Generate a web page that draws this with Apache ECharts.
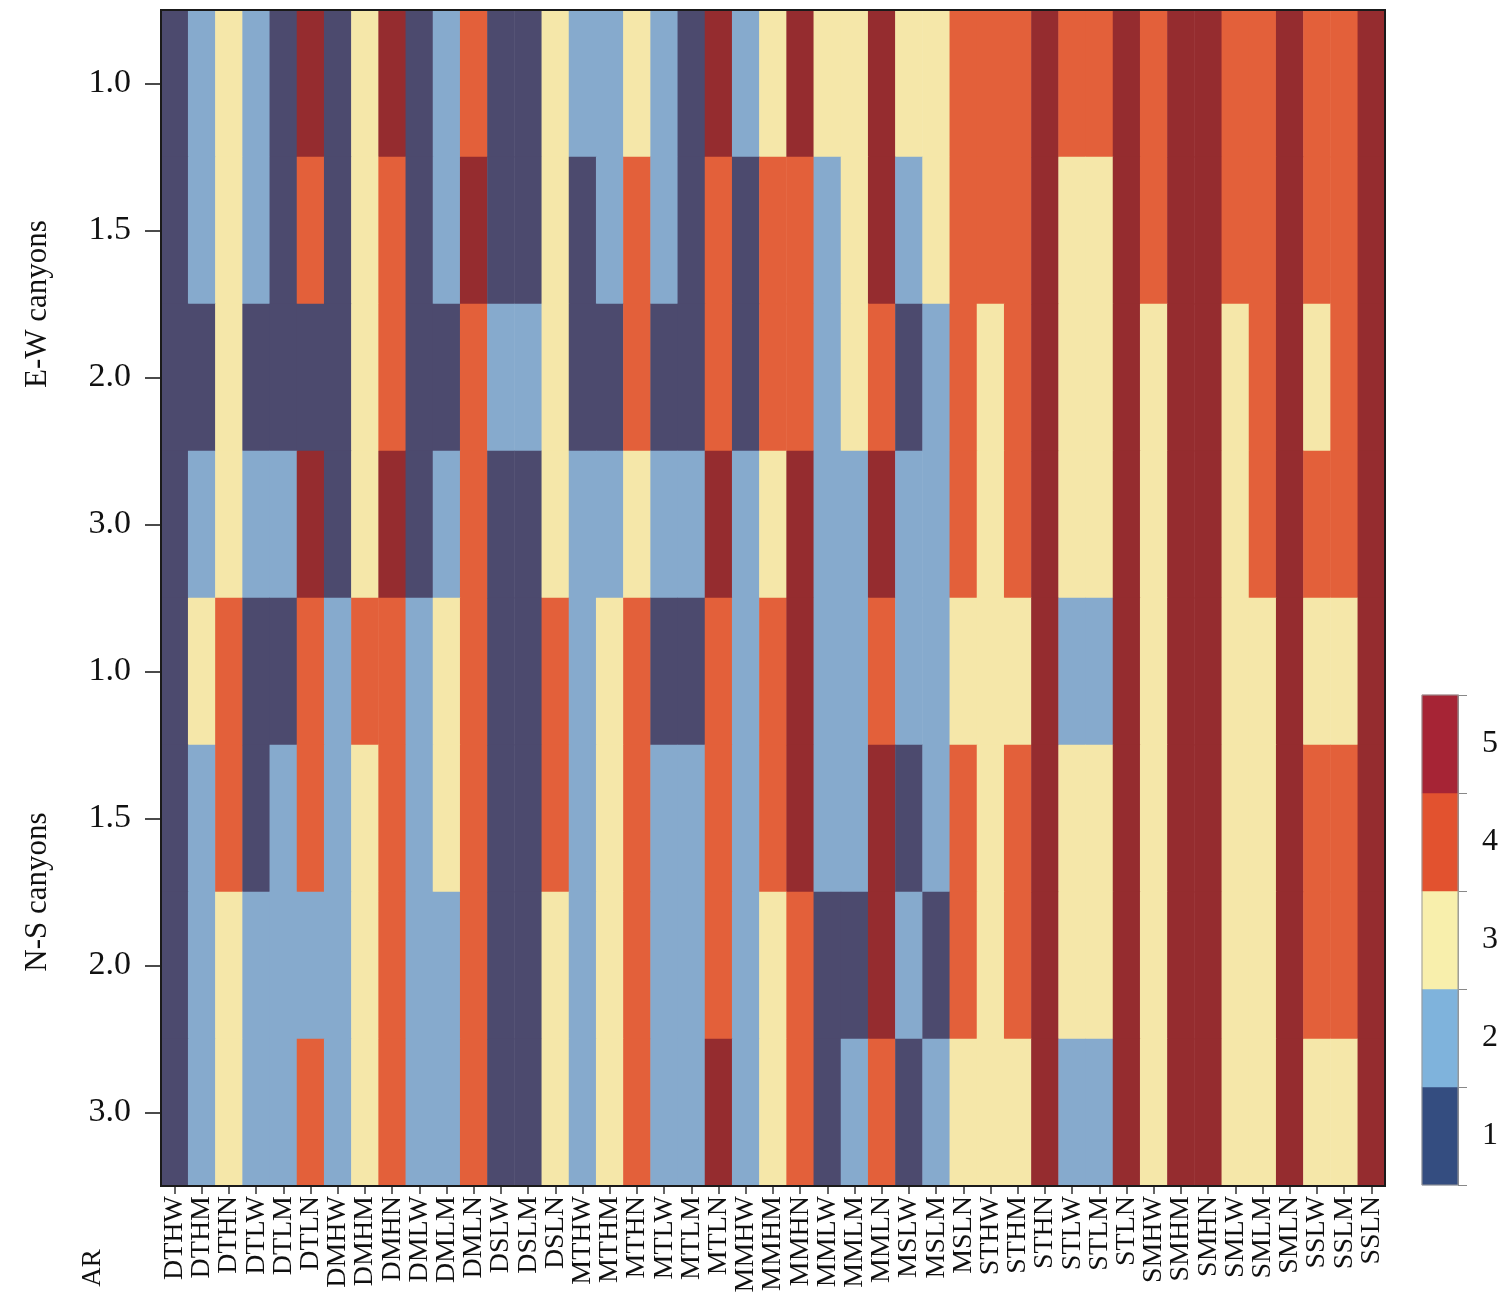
<!DOCTYPE html>
<html>
<head>
<meta charset="utf-8">
<script src="https://cdn.jsdelivr.net/npm/echarts@6/dist/echarts.min.js"></script>
<style>
html,body{margin:0;padding:0;background:#fff;}
#chart{width:1500px;height:1294px;}
</style>
</head>
<body>
<div id="chart"></div>
<script>
// Column categories (canyon configurations)
var categories = ['DTHW','DTHM','DTHN','DTLW','DTLM','DTLN','DMHW','DMHM','DMHN','DMLW','DMLM','DMLN','DSLW','DSLM','DSLN',
  'MTHW','MTHM','MTHN','MTLW','MTLM','MTLN','MMHW','MMHM','MMHN','MMLW','MMLM','MMLN','MSLW','MSLM','MSLN',
  'STHW','STHM','STHN','STLW','STLM','STLN','SMHW','SMHM','SMHN','SMLW','SMLM','SMLN','SSLW','SSLM','SSLN'];
// Row tick labels (aspect ratio), top to bottom
var rowLabels = ['1.0','1.5','2.0','3.0','1.0','1.5','2.0','3.0'];
var groupLabels = ['E-W canyons','N-S canyons'];
var legendLabels = ['1','2','3','4','5'];

// Class values (1-5), one array per row
var ew10 = [1,2,3,2,1,5,1,3,5,1,2,4,1,1,3, 2,2,3,2,1,5,2,3,5,3,3,5,3,3,4, 4,4,5,4,4,5,4,5,5,4,4,5,4,4,5];
var ew15 = [1,2,3,2,1,4,1,3,4,1,2,5,1,1,3, 1,2,4,2,1,4,1,4,4,2,3,5,2,3,4, 4,4,5,3,3,5,4,5,5,4,4,5,4,4,5];
var ew20 = [1,1,3,1,1,1,1,3,4,1,1,4,2,2,3, 1,1,4,1,1,4,1,4,4,2,3,4,1,2,4, 3,4,5,3,3,5,3,5,5,3,4,5,3,4,5];
var ew30 = [1,2,3,2,2,5,1,3,5,1,2,4,1,1,3, 2,2,3,2,2,5,2,3,5,2,2,5,2,2,4, 3,4,5,3,3,5,3,5,5,3,4,5,4,4,5];
var ns10 = [1,3,4,1,1,4,2,4,4,2,3,4,1,1,4, 2,3,4,1,1,4,2,4,5,2,2,4,2,2,3, 3,3,5,2,2,5,3,5,5,3,3,5,3,3,5];
var ns15 = [1,2,4,1,2,4,2,3,4,2,3,4,1,1,4, 2,3,4,2,2,4,2,4,5,2,2,5,1,2,4, 3,4,5,3,3,5,3,5,5,3,3,5,4,4,5];
var ns20 = [1,2,3,2,2,2,2,3,4,2,2,4,1,1,3, 2,3,4,2,2,4,2,3,4,1,1,5,2,1,4, 3,4,5,3,3,5,3,5,5,3,3,5,4,4,5];
var ns30 = [1,2,3,2,2,4,2,3,4,2,2,4,1,1,3, 2,3,4,2,2,5,2,3,4,1,2,4,1,2,3, 3,3,5,2,2,5,3,5,5,3,3,5,3,3,5];
var rows = [ew10, ew15, ew20, ew30, ns10, ns15, ns20, ns30];

var cellColors = ['#4c4a6e','#86aacd','#f5e7a9','#e3603a','#952c2f'];
var legendColors = ['#344d80','#7fb3dc','#f8efac','#e2522f','#a62435'];

var heatData = [];
rows.forEach(function (r, yi) {
  r.forEach(function (v, xi) { heatData.push([xi, yi, v]); });
});
var legendData = legendLabels.map(function (l, i) { return [0, i, i + 1]; });

var serif = '"Liberation Serif","DejaVu Serif",serif';

var chart = echarts.init(document.getElementById('chart'));
chart.setOption({
  backgroundColor: '#ffffff',
  animation: false,
  grid: [
    {left: 161, top: 10, width: 1224, height: 1176, show: true, z: 10, containLabel: false, outerBoundsMode: 'none',
     backgroundColor: 'transparent', borderColor: '#1a1a1a', borderWidth: 2},
    {left: 1422, top: 695, width: 36, height: 490, show: true, z: 10, containLabel: false, outerBoundsMode: 'none',
     backgroundColor: 'transparent', borderColor: '#999', borderWidth: 1}
  ],
  xAxis: [
    {type: 'category', gridIndex: 0, data: categories, position: 'bottom',
     axisLine: {show: true, lineStyle: {color: '#1a1a1a', width: 2}},
     axisTick: {show: true, alignWithLabel: true, length: 8, lineStyle: {color: '#333', width: 1.5}},
     axisLabel: {rotate: 90, interval: 0, margin: 10, fontSize: 28, fontFamily: serif, color: '#111'},
     splitLine: {show: false}},
    {type: 'category', gridIndex: 1, data: ['c'], show: false}
  ],
  yAxis: [
    {type: 'category', gridIndex: 0, data: rowLabels, inverse: true, position: 'left',
     axisLine: {show: true, lineStyle: {color: '#1a1a1a', width: 2}},
     axisTick: {show: true, alignWithLabel: true, length: 16, lineStyle: {color: '#111', width: 1.5}},
     axisLabel: {interval: 0, margin: 30, fontSize: 34, fontFamily: serif, color: '#111'},
     splitLine: {show: false}},
    {type: 'category', gridIndex: 0, data: groupLabels, inverse: true, position: 'left',
     axisLine: {show: false}, axisTick: {show: false},
     axisLabel: {rotate: 90, interval: 0, margin: 108, fontSize: 31, fontFamily: serif, color: '#111'},
     splitLine: {show: false}},
    {type: 'category', gridIndex: 1, data: legendLabels, position: 'right',
     axisLine: {show: true, lineStyle: {color: '#888', width: 1}},
     axisTick: {show: true, length: 9, lineStyle: {color: '#888', width: 1}},
     axisLabel: {margin: 24, fontSize: 32, fontFamily: serif, color: '#111'},
     splitLine: {show: false}}
  ],
  visualMap: [
    {type: 'piecewise', show: false, seriesIndex: 0, dimension: 2,
     pieces: [{value: 1, color: cellColors[0]}, {value: 2, color: cellColors[1]}, {value: 3, color: cellColors[2]},
              {value: 4, color: cellColors[3]}, {value: 5, color: cellColors[4]}]},
    {type: 'piecewise', show: false, seriesIndex: 1, dimension: 2,
     pieces: [{value: 1, color: legendColors[0]}, {value: 2, color: legendColors[1]}, {value: 3, color: legendColors[2]},
              {value: 4, color: legendColors[3]}, {value: 5, color: legendColors[4]}]}
  ],
  graphic: [
    {type: 'text', x: 93, y: 1268, rotation: Math.PI / 2,
     style: {text: 'AR', font: '27px ' + serif, fill: '#111', textAlign: 'center', textVerticalAlign: 'middle'}}
  ],
  series: [
    {type: 'heatmap', xAxisIndex: 0, yAxisIndex: 0, data: heatData,
     itemStyle: {borderWidth: 0}, emphasis: {disabled: true}},
    {type: 'heatmap', xAxisIndex: 1, yAxisIndex: 2, data: legendData,
     itemStyle: {borderWidth: 0}, emphasis: {disabled: true}}
  ]
});
</script>
</body>
</html>
